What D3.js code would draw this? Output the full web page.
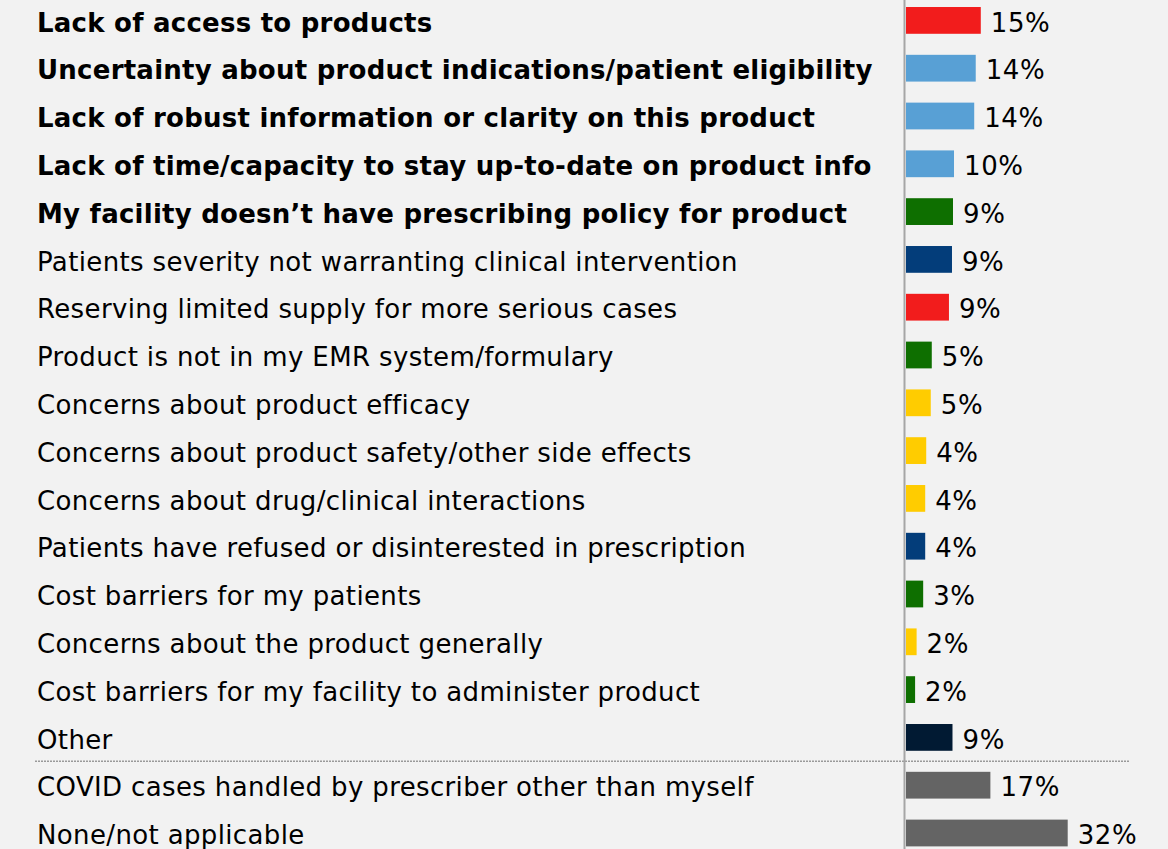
<!DOCTYPE html>
<html lang="en">
<head>
<meta charset="utf-8">
<title>Barriers</title>
<script src="https://cdn.jsdelivr.net/npm/d3@7"></script>
<style>
  body { margin: 0; background: #f2f2f2; }
  svg { display: block; }
  .lbl { font-family: "DejaVu Sans", Verdana, sans-serif; font-size: 26px; fill: #000; }
  .val { letter-spacing: 0.6px; }
</style>
</head>
<body>
<div id="chart"></div>
<script>
// reasons, in display order
var reasons = [
  "Lack of access to products",
  "Uncertainty about product indications/patient eligibility",
  "Lack of robust information or clarity on this product",
  "Lack of time/capacity to stay up-to-date on product info",
  "My facility doesn\u2019t have prescribing policy for product",
  "Patients severity not warranting clinical intervention",
  "Reserving limited supply for more serious cases",
  "Product is not in my EMR system/formulary",
  "Concerns about product efficacy",
  "Concerns about product safety/other side effects",
  "Concerns about drug/clinical interactions",
  "Patients have refused or disinterested in prescription",
  "Cost barriers for my patients",
  "Concerns about the product generally",
  "Cost barriers for my facility to administer product",
  "Other",
  "COVID cases handled by prescriber other than myself",
  "None/not applicable"
];
// percent of respondents
var values = [14.8, 13.8, 13.5, 9.5, 9.3, 9.1, 8.5, 5.1, 4.9, 4.0, 3.8, 3.8, 3.4, 2.1, 1.8, 9.2, 16.7, 32.0];
var groups = ["access", "info", "info", "info", "policy", "patient", "access", "policy", "concern", "concern",
              "concern", "patient", "policy", "concern", "policy", "other", "na", "na"];
var boldCount = 5;

var W = 1168, H = 849;
var colors = {
  access: "#f21c1c", info: "#58a0d5", policy: "#0e6f00", patient: "#033d7a",
  concern: "#ffcc00", other: "#011a33", na: "#646464"
};

var svg = d3.select("#chart").append("svg")
  .attr("width", W).attr("height", H);

svg.append("rect").attr("width", W).attr("height", H).attr("fill", "#f2f2f2");

var x0 = 906;
var x = d3.scaleLinear().domain([0, 32]).range([x0, x0 + 161.7]);
var y = d3.scaleBand().domain(d3.range(reasons.length))
  .range([-3.5, -3.5 + 47.8 * reasons.length])
  .paddingInner(0.44).paddingOuter(0.22);

// category labels (DejaVu runs a bit narrower than Verdana, so space it out)
svg.selectAll("text.cat").data(reasons).enter().append("text")
  .attr("class", "lbl cat")
  .attr("x", 37)
  .attr("y", function(d, i) { return y(i) + y.bandwidth() / 2; })
  .attr("dy", "0.43em")
  .attr("font-weight", function(d, i) { return i < boldCount ? "bold" : "normal"; })
  .style("letter-spacing", function(d, i) { return i < boldCount ? "0.24px" : "0.36px"; })
  .text(function(d) { return d; });

// bars
svg.selectAll("rect.bar").data(values).enter().append("rect")
  .attr("class", "bar")
  .attr("x", x0)
  .attr("y", function(d, i) { return y(i); })
  .attr("width", function(d) { return x(d) - x0; })
  .attr("height", y.bandwidth())
  .attr("fill", function(d, i) { return colors[groups[i]]; });

// value labels
svg.selectAll("text.val").data(values).enter().append("text")
  .attr("class", "lbl val")
  .attr("x", function(d) { return x(d) + 10; })
  .attr("y", function(d, i) { return y(i) + y.bandwidth() / 2; })
  .attr("dy", "0.43em")
  .text(function(d) { return Math.round(d) + "%"; });

// separator before the last two rows
var sepY = y(15) + y.bandwidth() + (y.step() - y.bandwidth()) / 2;
svg.append("line")
  .attr("x1", 35).attr("x2", 1130)
  .attr("y1", sepY).attr("y2", sepY)
  .attr("stroke", "#9a9a9a").attr("stroke-width", 1.5)
  .attr("stroke-dasharray", "2,1");

// axis line
svg.append("line")
  .attr("x1", x0 - 1.5).attr("x2", x0 - 1.5)
  .attr("y1", 0).attr("y2", H)
  .attr("stroke", "#a6a6a6").attr("stroke-width", 2);
</script>
</body>
</html>
